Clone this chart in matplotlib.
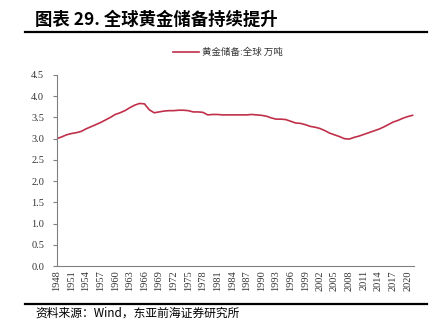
import numpy as np
import matplotlib
matplotlib.use("Agg")
import matplotlib.pyplot as plt
from matplotlib.lines import Line2D

plt.rcParams['font.family'] = ['Noto Sans CJK SC', 'DejaVu Sans']

# global gold reserves, 10k tonnes
years = list(range(1948, 2022))
reserves = [3.00, 3.04, 3.09, 3.12, 3.14, 3.17, 3.23, 3.28, 3.33, 3.38,
            3.44, 3.50, 3.57, 3.61, 3.66, 3.73, 3.79, 3.83, 3.82, 3.68,
            3.61, 3.63, 3.65, 3.66, 3.66, 3.67, 3.67, 3.66, 3.63, 3.63,
            3.62, 3.56, 3.57, 3.57, 3.56, 3.56, 3.56, 3.56, 3.56, 3.56,
            3.57, 3.56, 3.55, 3.53, 3.49, 3.46, 3.46, 3.45, 3.41, 3.37,
            3.36, 3.33, 3.29, 3.27, 3.24, 3.19, 3.13, 3.09, 3.05, 3.00,
            2.99, 3.03, 3.06, 3.10, 3.14, 3.18, 3.22, 3.27, 3.33, 3.39,
            3.43, 3.48, 3.52, 3.55]
tick_years = list(range(1948, 2021, 3))
y_ticks = [0.0, 0.5, 1.0, 1.5, 2.0, 2.5, 3.0, 3.5, 4.0, 4.5]

title = '图表 29. 全球黄金储备持续提升'
legend_label = '黄金储备:全球 万吨'
source = '资料来源：Wind，东亚前海证券研究所'

W, H = 439, 332
fig = plt.figure(figsize=(W / 100, H / 100), dpi=100)
ax = fig.add_axes([56.7 / W, 1 - 266 / H, (414 - 56.7) / W, (266 - 75) / H])

red = '#C0304A'
ax.plot(years, reserves, color=red, lw=1.2)

ax.set_xlim(1948, 2021.3)
ax.set_ylim(0, 4.5)
ax.set_yticks(y_ticks)
ax.set_yticklabels(['%.1f' % v for v in y_ticks], family='Liberation Serif',
                   fontsize=7.5, color='#333333')
ax.set_xticks(tick_years)
ax.set_xticklabels([str(y) for y in tick_years], rotation=90,
                   family='Liberation Serif', fontsize=7.5, color='#333333')
for s in ['top', 'right']:
    ax.spines[s].set_visible(False)
for s in ['left', 'bottom']:
    ax.spines[s].set_color('#808080')
    ax.spines[s].set_linewidth(0.8)
ax.tick_params(axis='y', length=3, color='#808080', pad=6)
ax.tick_params(axis='x', length=0, pad=3)

# title and rules
fig.text(35 / W, 1 - 20 / H, title, fontsize=12.5, fontweight='bold',
         va='center', ha='left')
fig.add_artist(Line2D([25 / W, 427 / W], [1 - 31.5 / H] * 2, color='black', lw=1.6))
fig.add_artist(Line2D([25 / W, 427 / W], [1 - 303.5 / H] * 2, color='black', lw=1.6))

# legend
fig.add_artist(Line2D([173 / W, 199 / W], [1 - 52 / H] * 2, color=red, lw=1.2))
fig.text(202 / W, 1 - 52 / H, legend_label, fontsize=6.8, va='center', ha='left',
         color='#333333')

fig.text(35 / W, 1 - 313 / H, source, fontsize=8.5, va='center', ha='left')

fig.savefig('out.png', dpi=100)
